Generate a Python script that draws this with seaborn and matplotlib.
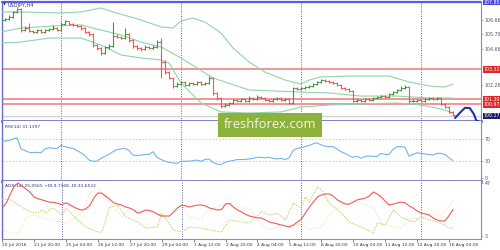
import numpy as np
import pandas as pd
import matplotlib
matplotlib.use("Agg")
import matplotlib.pyplot as plt
from matplotlib.patches import Rectangle
import seaborn as sns

sns.set_theme(style="white")
plt.rcParams['font.family'] = ['DejaVu Sans']

# ---------------- data ----------------
first_open = 106.57
bar_close = [106.64, 106.70, 106.84, 107.18, 107.38, 105.96, 106.10, 105.90, 105.83, 105.96,
             105.83, 105.96, 106.03, 106.10, 105.96, 106.37, 106.57, 106.37, 106.30, 106.23,
             106.10, 105.83, 105.69, 104.95, 104.75, 104.41, 104.82, 104.88, 105.56, 105.49,
             105.42, 105.69, 105.29, 104.88, 104.75, 104.68, 104.82, 104.75, 104.82, 105.15,
             103.81, 103.13, 102.73, 102.19, 102.32, 102.46, 102.26, 102.39, 102.32, 102.46,
             102.32, 102.39, 102.73, 101.72, 101.38, 100.84, 100.91, 101.04, 101.25, 101.18,
             101.31, 101.18, 101.38, 101.31, 101.45, 101.38, 101.25, 101.18, 101.31, 101.38,
             101.25, 101.31, 101.04, 102.05, 101.99, 102.05, 102.12, 102.19, 102.32, 102.46,
             102.59, 102.53, 102.46, 102.39, 102.26, 102.05, 101.99, 101.85, 101.18, 101.25,
             101.18, 101.31, 101.25, 101.38, 101.45, 101.51, 101.45, 101.65, 101.78, 101.92,
             102.05, 102.12, 101.18, 101.18, 101.25, 101.18, 101.31, 101.38, 101.31, 101.38,
             100.98, 100.77, 100.44, 100.24]
bar_high = [106.75, 106.80, 106.95, 107.25, 107.45, 107.42, 106.20, 106.45, 105.99, 106.03,
            106.03, 106.03, 106.10, 106.30, 106.17, 106.50, 106.64, 106.60, 106.44, 106.37,
            106.30, 106.17, 105.90, 105.76, 105.02, 104.82, 104.90, 105.00, 106.50, 105.69,
            105.56, 106.10, 105.76, 105.35, 104.95, 104.82, 104.95, 104.88, 104.95, 105.29,
            105.42, 103.94, 103.20, 102.80, 102.46, 102.53, 102.53, 102.46, 102.46, 102.53,
            102.53, 102.46, 102.86, 102.80, 101.78, 101.45, 101.04, 101.11, 101.31, 101.31,
            101.38, 101.38, 101.51, 101.45, 101.58, 101.51, 101.45, 101.31, 101.38, 101.45,
            101.45, 101.38, 101.38, 102.12, 102.12, 102.12, 102.19, 102.26, 102.39, 102.53,
            102.66, 102.66, 102.59, 102.53, 102.46, 102.32, 102.12, 102.05, 101.92, 101.38,
            101.31, 101.38, 101.38, 101.45, 101.51, 101.58, 101.58, 101.72, 101.85, 101.99,
            102.19, 102.26, 102.19, 101.31, 101.31, 101.31, 101.38, 101.45, 101.45, 101.45,
            101.45, 101.04, 100.84, 100.51]
bar_low = [106.50, 106.57, 106.64, 106.80, 107.10, 105.83, 105.90, 105.83, 105.76, 105.76,
           105.76, 105.76, 105.90, 105.96, 105.90, 105.90, 106.30, 106.30, 106.23, 106.17,
           105.96, 105.76, 105.56, 104.82, 104.61, 104.28, 104.35, 104.70, 104.82, 105.42,
           105.35, 105.35, 105.15, 104.75, 104.61, 104.55, 104.61, 104.68, 104.68, 104.75,
           102.73, 103.00, 102.66, 102.05, 102.12, 102.26, 102.19, 102.19, 102.26, 102.26,
           102.26, 102.26, 102.32, 101.58, 101.25, 100.71, 100.77, 100.84, 100.98, 101.11,
           101.11, 101.11, 101.11, 101.25, 101.25, 101.31, 101.18, 101.11, 101.11, 101.25,
           101.18, 101.18, 100.98, 100.98, 101.92, 101.92, 101.99, 102.05, 102.12, 102.26,
           102.39, 102.46, 102.39, 102.32, 102.19, 101.99, 101.92, 101.78, 101.11, 101.11,
           101.11, 101.11, 101.18, 101.18, 101.31, 101.38, 101.38, 101.38, 101.58, 101.72,
           101.85, 101.99, 101.04, 101.11, 101.11, 101.11, 101.11, 101.25, 101.25, 101.25,
           100.91, 100.71, 100.37, 100.17]

bb_upper_bars = [0, 5, 15, 20, 25, 28, 35, 40, 43, 45, 48, 51, 55, 58, 62, 66, 71, 75, 77, 80, 87, 97, 102, 107, 111, 113]
bb_upper = [107.18, 107.18, 107.11, 107.18, 107.45, 107.18, 106.64, 106.17, 106.10, 106.57, 106.77, 106.50,
            105.76, 104.75, 103.81, 103.13, 102.59, 102.32, 102.59, 102.80, 102.86, 102.86, 102.46, 102.19,
            102.12, 102.32]
bb_mid_bars = [0, 5, 13, 20, 25, 30, 35, 40, 45, 53, 62, 75, 82, 90, 99, 107, 113]
bb_mid = [105.83, 106.10, 106.23, 106.30, 105.96, 105.63, 105.15, 104.82, 104.08, 102.73, 101.92, 101.78,
          101.72, 101.51, 101.51, 101.38, 101.38]
bb_lower_bars = [0, 5, 12, 20, 25, 30, 35, 40, 42, 45, 50, 55, 62, 70, 75, 82, 90, 99, 105, 110, 113]
bb_lower = [105.09, 105.15, 105.42, 105.42, 104.95, 104.28, 104.08, 103.94, 103.74, 102.39, 101.04, 100.44,
            100.37, 100.44, 100.77, 100.91, 100.98, 101.04, 100.91, 100.64, 100.37]

level_red = [103.32, 101.30, 100.97]
level_low = 100.17
level_top = 107.85
price_ticks = [106.66, 105.70, 104.66, 102.26]

rsi = [65, 66, 67, 70, 72, 52, 49, 46, 45, 46, 45, 52, 54, 53, 53, 58, 56, 54, 53, 49,
       45, 40, 32, 30, 30, 35, 39, 42, 47, 51, 52, 53, 49, 41, 40, 41, 42, 42, 47, 37,
       33, 30, 28, 27, 26, 30, 30, 30, 31, 32, 30, 33, 34, 28, 25, 24, 28, 30, 31, 33,
       33, 33, 34, 35, 37, 37, 36, 37, 35, 34, 35, 33, 36, 49, 53, 54, 56, 58, 61, 63,
       59, 57, 56, 56, 52, 47, 44, 40, 37, 39, 35, 39, 39, 39, 38, 44, 42, 42, 51, 56,
       56, 55, 39, 42, 45, 44, 43, 42, 41, 44, 44, 42, 36, 31.1]

adx = [26, 30, 37, 44, 47, 44.5, 42, 39.5, 35.5, 34, 33, 32, 31, 31, 30, 29, 30.5, 29, 27, 25.5,
       24.5, 25.5, 28.5, 34.5, 38.7, 38.5, 36, 33.5, 30.5, 29.5, 28.7, 27, 26.2, 24.6, 22, 23, 24.6, 24, 23, 21,
       19.6, 19.6, 19.6, 23, 26.2, 28.7, 28, 27, 28, 28.7, 28.7, 28, 26.2, 25.4, 24.6, 25, 29.5, 30, 27, 24.6,
       23, 21, 19.6, 18.8, 18, 18, 16.3, 14.6, 13.8, 13, 12.1, 11.3, 10.5, 12.1, 14.6, 17, 22, 27, 31.2, 35.4,
       37, 37.9, 37.9, 36, 33, 31.2, 29.5, 29.5, 31.2, 33, 33.7, 34.5, 36.2, 39.5, 37.9, 35.4, 32, 28.7, 29.5, 30.4,
       31.2, 30.4, 28, 26.2, 23.8, 22.1, 21.3, 20.4, 18, 16.3, 15.5, 15.5, 20, 25.06]

di_plus_bars = [0, 2, 5, 7, 9, 10, 11, 12, 13, 15, 16, 19, 21, 24, 25, 27, 29, 31, 34, 36, 39, 40, 43, 45, 47,
                50, 52, 55, 57, 60, 62, 65, 67, 69, 71, 73, 75, 76, 77, 79, 80, 82, 85, 87, 90, 93, 94, 96, 98,
                100, 103, 105, 107, 110, 112, 113]
di_plus = [33.7, 33, 27, 23, 22, 24.6, 22, 25.4, 26, 20.4, 26, 16.3, 10.5, 6.3, 6.3, 27, 28.7, 19, 14.6, 9.6,
           10.5, 22, 8, 6.3, 10.5, 9.6, 8, 6.3, 16.3, 14.6, 13.8, 23, 20.4, 22, 16.3, 30.4, 26.2, 35.4, 31.2, 43.7,
           41.2, 30.4, 22, 14.6, 10.5, 5.5, 13.8, 12.1, 24.6, 18.8, 14.6, 18.8, 16.3, 13.8, 9.6, 9.74]
di_minus_bars = [0, 4, 6, 8, 12, 16, 20, 22, 24, 27, 30, 32, 35, 37, 40, 41, 45, 47, 50, 51, 55, 57, 60, 62,
                 65, 67, 70, 75, 77, 80, 82, 85, 87, 90, 93, 95, 98, 100, 103, 105, 107, 110, 111, 113]
di_minus = [8, 3.8, 18, 20.4, 16.3, 13.8, 22, 38.7, 42.8, 30.4, 18.8, 26.2, 23, 24.6, 18.8, 22, 28.7, 18.8,
            16.3, 23, 28.7, 30.4, 26.2, 26.2, 12.1, 8, 12.1, 12.1, 8, 10.5, 20.4, 28.7, 32.9, 30.4, 26.2, 13.8,
            10.5, 9.6, 18, 16.3, 22, 20.4, 23, 32.65]

week_sep = [15, 45, 75, 105]
time_tick_bars = [0, 8, 16, 24, 32, 40, 48, 56, 64, 72, 80, 88, 96, 104, 112]
time_tick_labels = ["20 Jul 2016", "21 Jul 20:00", "25 Jul 04:00", "26 Jul 12:00", "27 Jul 20:00",
                    "29 Jul 04:00", "1 Aug 12:00", "2 Aug 20:00", "4 Aug 04:00", "5 Aug 12:00",
                    "8 Aug 20:00", "10 Aug 04:00", "11 Aug 12:00", "12 Aug 20:00", "16 Aug 04:00"]

arrow_x = [113.5, 114.8, 116.0, 117.2, 118.2, 119.0]
arrow_y = [100.03, 100.40, 100.72, 100.70, 100.30, 99.75]
arrow_tip = (119.6, 99.45)

# ---------------- figure ----------------
W, H = 500, 250
fig = plt.figure(figsize=(5, 2.5), dpi=100)
fig.patch.set_facecolor("white")


def px_axes(x0, y0, x1, y1):
    return fig.add_axes([x0 / W, 1 - y1 / H, (x1 - x0) / W, (y1 - y0) / H])


ax = px_axes(2, 2, 481, 121)
ax2 = px_axes(2, 121, 481, 181)
ax3 = px_axes(2, 181, 481, 239)

BORDER = "#7474c4"
GRID = "#c8c8c8"
LBL = "#555566"
FS = 3.4

n = len(bar_close)
xb = np.arange(n)
bar_open = [first_open] + bar_close[:-1]
df = pd.DataFrame({"x": xb, "o": bar_open, "h": bar_high, "l": bar_low, "c": bar_close})
up = df["c"] >= df["o"]
col = np.where(up, "#3c9a3c", "#f05858")

for a in (ax, ax2, ax3):
    a.set_xlim(0.25, 120)
    a.set_facecolor("white")
    for s in a.spines.values():
        s.set_visible(False)
    a.spines["left"].set_visible(True)
    a.spines["left"].set_color("#6a6ad0")
    a.spines["left"].set_linewidth(1.0)
    a.spines["right"].set_visible(True)
    a.spines["right"].set_color("#8a8ac8")
    a.spines["right"].set_linewidth(0.8)
    a.tick_params(axis="x", bottom=False, labelbottom=False)
    a.yaxis.tick_right()
    a.tick_params(axis="y", which="both", right=True, left=False, length=1.5, width=0.5,
                  color="#8a8ac8", labelsize=FS, labelcolor=LBL, pad=1.2)
    for v in week_sep:
        a.axvline(v, color="#5a5aa0", lw=0.7, ls=(0, (1, 1.5)), zorder=1)

# ---------- main price panel ----------
ax.set_ylim(99.83, 107.85)
for v in level_red:
    ax.axhline(v, color="#f07878", lw=1.1, zorder=2)
ax.axhline(level_low, color="#d4d4d4", lw=1.0, zorder=2)
ax.axhline(level_top, color="#5a5af0", lw=1.6, zorder=5, clip_on=False)

sns.lineplot(x=bb_upper_bars, y=bb_upper, ax=ax, color="#8fd4aa", lw=0.8, zorder=3)
sns.lineplot(x=bb_mid_bars, y=bb_mid, ax=ax, color="#8fd4aa", lw=0.8, zorder=3)
sns.lineplot(x=bb_lower_bars, y=bb_lower, ax=ax, color="#8fd4aa", lw=0.8, zorder=3)

ax.vlines(df["x"], df["l"], df["h"], colors=col, lw=0.8, zorder=4)
ax.hlines(df["o"], df["x"] - 0.4, df["x"], colors=col, lw=0.8, zorder=4)
ax.hlines(df["c"], df["x"], df["x"] + 0.4, colors=col, lw=0.8, zorder=4)

ax.spines["bottom"].set_visible(True)
ax.spines["bottom"].set_color(BORDER)
ax.spines["bottom"].set_linewidth(2.0)
ax.set_yticks(price_ticks)
ax.set_yticklabels([f"{v:.2f}" for v in price_ticks])
ax.set_xlabel("")
ax.set_ylabel("")

ytr = ax.get_yaxis_transform()
boxed = [(level_top, "#4848d8"), (level_red[0], "#e02626"), (level_red[1], "#e02626"),
         (level_red[2], "#e02626"), (level_low, "#1e1e6e")]
for v, fc in boxed:
    ax.text(1.006, v, f"{v:.2f}", transform=ytr, ha="left", va="center", fontsize=FS,
            color="white", clip_on=False, zorder=10,
            bbox=dict(boxstyle="square,pad=0.2", fc=fc, ec="none"))

# arrow (hand-drawn forecast)
ax.plot(arrow_x, arrow_y, color="#1f34a8", lw=1.5, clip_on=False, zorder=12,
        solid_capstyle="round")
ax.annotate("", xy=arrow_tip, xytext=(arrow_x[-1], arrow_y[-1]),
            arrowprops=dict(arrowstyle="-|>", color="#1f34a8", lw=1.5, mutation_scale=6),
            annotation_clip=False, zorder=12)

fig.text(3 / W, 1 - 5 / H, "\u25bc", fontsize=2.8, color="#303078", va="center", ha="left")
fig.text(8 / W, 1 - 5 / H, "USDJPY,H4", fontsize=3.6, color="#303078", va="center", ha="left")

# ---------- RSI panel ----------
ax2.set_ylim(-5.36, 101.8)
ax2.axhline(70, color=GRID, lw=0.6, ls=(0, (2, 2)))
ax2.axhline(30, color=GRID, lw=0.6, ls=(0, (2, 2)))
sns.lineplot(x=xb, y=rsi, ax=ax2, color="#72b4f0", lw=0.8, zorder=3)
ax2.set_yticks([70, 30, 0])
ax2.set_yticklabels(["70", "30", "0"])
ax2.spines["bottom"].set_visible(True)
ax2.spines["bottom"].set_color(BORDER)
ax2.spines["bottom"].set_linewidth(2.0)
ax2.set_xlabel("")
ax2.set_ylabel("")
ax2.text(0.006, 0.93, "RSI(14) 31.1397", transform=ax2.transAxes, fontsize=3.2,
         color="#303078", va="top", ha="left")

# ---------- ADX panel ----------
ax3.set_ylim(0.51, 48.66)
sns.lineplot(x=di_minus_bars, y=di_minus, ax=ax3, color="#f0dfb0", lw=0.7, ls=(0, (1, 1.2)), zorder=2)
sns.lineplot(x=di_plus_bars, y=di_plus, ax=ax3, color="#b4d46c", lw=0.7, ls=(0, (1.5, 1.2)), zorder=3)
sns.lineplot(x=xb, y=adx, ax=ax3, color="#f05a5a", lw=0.8, zorder=4)
ax3.set_yticks([47, 3])
ax3.set_yticklabels(["47", "3"])
ax3.spines["bottom"].set_visible(True)
ax3.spines["bottom"].set_color("#8a8ac8")
ax3.spines["bottom"].set_linewidth(0.8)
ax3.set_xticks(time_tick_bars)
ax3.set_xticklabels(time_tick_labels, ha="left")
ax3.tick_params(axis="x", bottom=True, labelbottom=True, direction="out", length=2, width=0.5,
                color="#555566", labelsize=3.2, labelcolor="#333344", pad=1.0)
ax3.set_xlabel("")
ax3.set_ylabel("")
ax3.text(0.006, 0.95, "ADX(14) 25.0565 +DI:9.7368 -DI:32.6522", transform=ax3.transAxes,
         fontsize=3.2, color="#303078", va="top", ha="left")

# ---------- watermark ----------
fig.patches.append(Rectangle((218 / W, 1 - 137 / H), 104 / W, 24 / H, transform=fig.transFigure,
                             facecolor="#8db23c", edgecolor="none", zorder=20))
fig.text(270 / W, 1 - 125 / H, "freshforex.com", fontsize=9.4, family=["Open Sans", "DejaVu Sans"],
         color="#f6f6ea", ha="center", va="center", zorder=21)

fig.savefig("out.png", dpi=100, facecolor="white")
